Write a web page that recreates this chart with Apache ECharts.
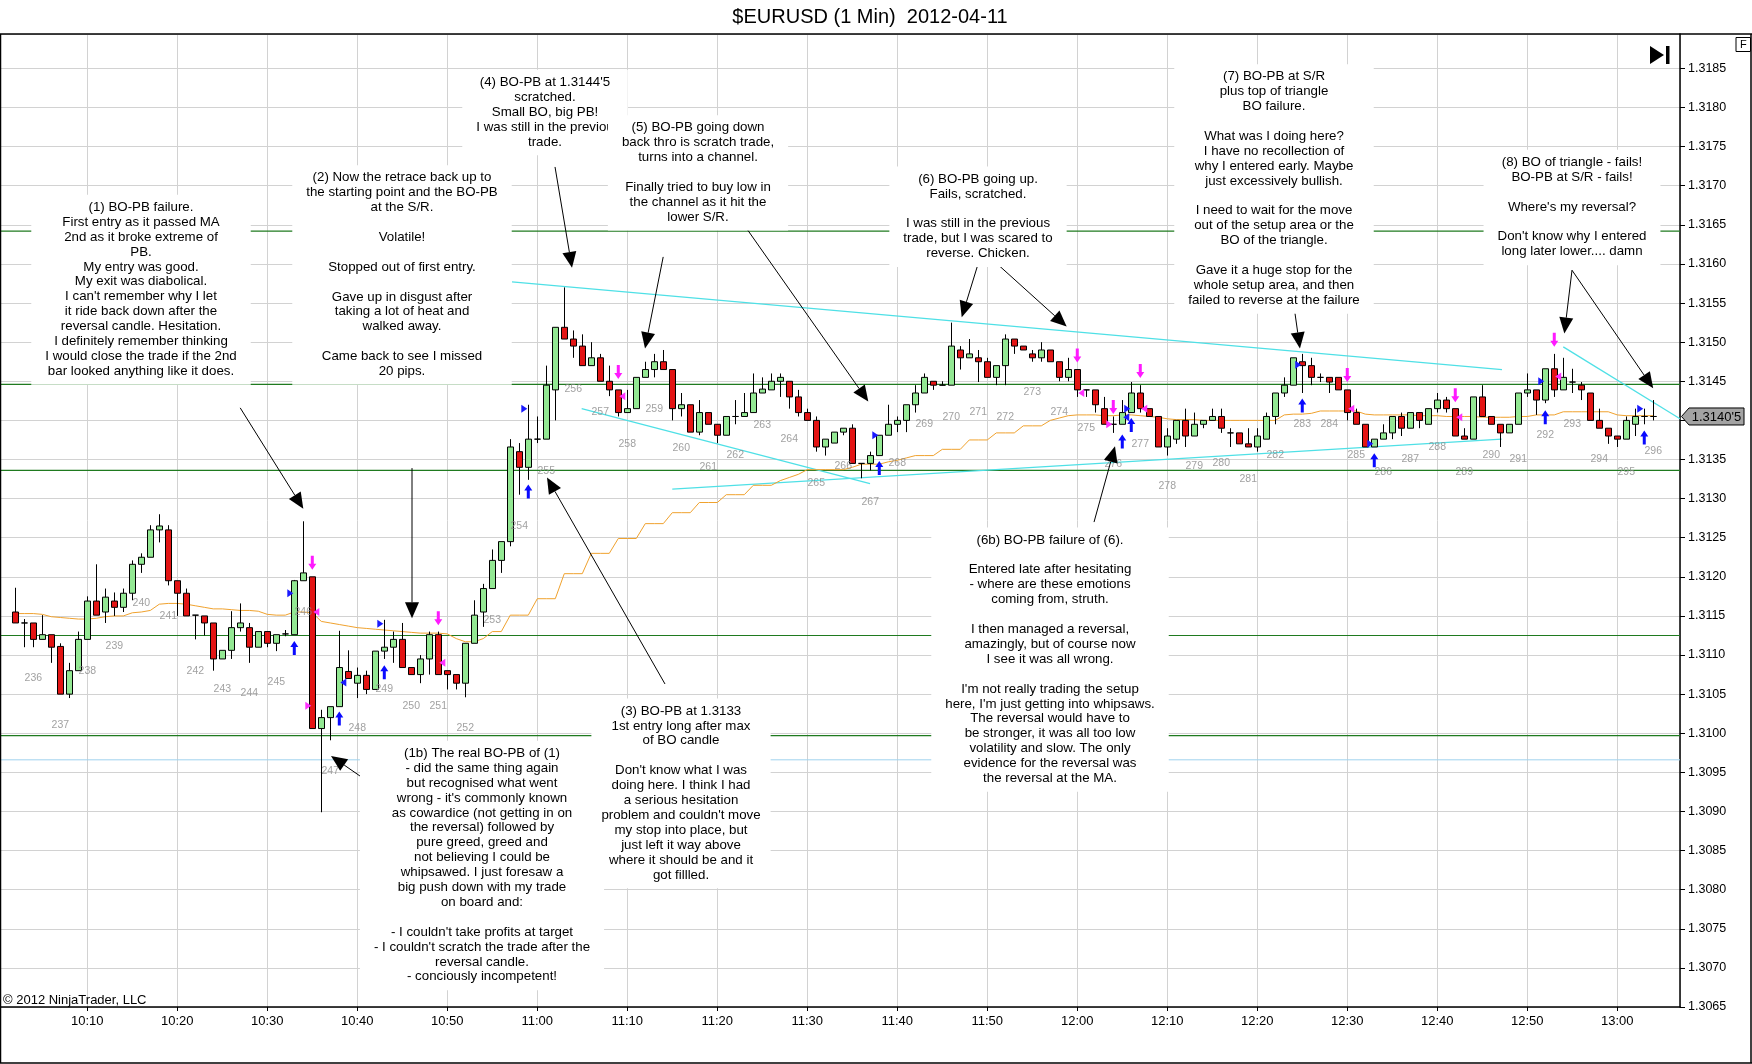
<!DOCTYPE html>
<html><head><meta charset="utf-8">
<script src="https://cdn.jsdelivr.net/npm/echarts@6/dist/echarts.min.js"></script>
<style>html,body{margin:0;padding:0;background:#fff}#c{width:1752px;height:1064px}</style>
</head><body><div id="c"></div>
<script>
// ---------- DATA ----------
const startMinute = 2; // first bar = 10:02 (minutes after 10:00), one bar per minute
const opens = [
1.31155,1.31141,1.31141,1.31120,1.31126,1.31111,1.31050,1.31080,1.31120,1.31169,
1.31155,1.31169,1.31161,1.31179,1.31216,1.31225,1.31260,1.31260,1.31195,1.31179,
1.31151,1.31150,1.31141,1.31095,1.31106,1.31135,1.31135,1.31110,1.31130,1.31115,
1.31127,1.31126,1.31195,1.31200,1.31006,1.31020,1.31034,1.31079,1.31064,1.31074,
1.31056,1.31105,1.31110,1.31120,1.31084,1.31075,1.31095,1.31126,1.31080,1.31075,
1.31064,1.31115,1.31155,1.31185,1.31221,1.31245,1.31360,1.31340,1.31376,1.31376,
1.31439,1.31519,1.31504,1.31495,1.31470,1.31480,1.31450,1.31439,1.31410,1.31415,
1.31455,1.31465,1.31475,1.31465,1.31415,1.31420,1.31385,1.31410,1.31395,1.31381,
1.31405,1.31405,1.31410,1.31435,1.31439,1.31450,1.31450,1.31430,1.31410,1.31400,
1.31366,1.31371,1.31385,1.31390,1.31345,1.31345,1.31355,1.31381,1.31395,1.31400,
1.31420,1.31435,1.31450,1.31445,1.31445,1.31490,1.31480,1.31480,1.31475,1.31455,
1.31470,1.31504,1.31495,1.31485,1.31480,1.31490,1.31475,1.31455,1.31465,1.31439,
1.31439,1.31415,1.31395,1.31395,1.31410,1.31435,1.31415,1.31405,1.31366,1.31376,
1.31400,1.31380,1.31395,1.31400,1.31405,1.31384,1.31384,1.31370,1.31366,1.31376,
1.31405,1.31435,1.31445,1.31475,1.31470,1.31455,1.31455,1.31455,1.31439,1.31410,
1.31395,1.31366,1.31376,1.31384,1.31405,1.31390,1.31410,1.31395,1.31415,1.31426,
1.31415,1.31380,1.31376,1.31430,1.31405,1.31395,1.31384,1.31395,1.31435,1.31439,
1.31426,1.31466,1.31439,1.31449,1.31445,1.31435,1.31400,1.31390,1.31380,1.31376,
1.31395,1.31405,1.31405];
const closes = [
1.31141,1.31141,1.31120,1.31126,1.31110,1.31050,1.31080,1.31120,1.31169,1.31151,
1.31174,1.31161,1.31179,1.31216,1.31225,1.31260,1.31265,1.31195,1.31179,1.31150,
1.31151,1.31141,1.31095,1.31106,1.31135,1.31141,1.31110,1.31130,1.31115,1.31126,
1.31127,1.31195,1.31205,1.31006,1.31020,1.31034,1.31084,1.31070,1.31074,1.31056,
1.31105,1.31110,1.31120,1.31084,1.31075,1.31095,1.31126,1.31075,1.31075,1.31064,
1.31115,1.31151,1.31185,1.31221,1.31245,1.31366,1.31340,1.31376,1.31376,1.31445,
1.31519,1.31504,1.31495,1.31470,1.31480,1.31450,1.31439,1.31410,1.31415,1.31455,
1.31465,1.31475,1.31465,1.31415,1.31420,1.31385,1.31410,1.31395,1.31381,1.31405,
1.31405,1.31410,1.31435,1.31440,1.31450,1.31455,1.31430,1.31410,1.31400,1.31366,
1.31376,1.31385,1.31390,1.31345,1.31345,1.31355,1.31381,1.31395,1.31400,1.31420,
1.31435,1.31455,1.31445,1.31445,1.31495,1.31480,1.31485,1.31475,1.31455,1.31470,
1.31504,1.31495,1.31490,1.31480,1.31490,1.31475,1.31455,1.31465,1.31439,1.31439,
1.31420,1.31395,1.31395,1.31410,1.31435,1.31415,1.31405,1.31366,1.31380,1.31400,
1.31380,1.31395,1.31400,1.31405,1.31390,1.31384,1.31370,1.31366,1.31380,1.31405,
1.31435,1.31445,1.31480,1.31470,1.31455,1.31455,1.31449,1.31439,1.31410,1.31395,
1.31366,1.31376,1.31384,1.31405,1.31390,1.31410,1.31400,1.31415,1.31426,1.31415,
1.31380,1.31376,1.31430,1.31405,1.31395,1.31384,1.31395,1.31435,1.31439,1.31426,
1.31466,1.31439,1.31455,1.31449,1.31439,1.31400,1.31390,1.31380,1.31376,1.31400,
1.31405,1.31405,1.31405];
const lows = [
1.31141,1.31110,1.31110,1.31120,1.31090,1.31050,1.31045,1.31080,1.31120,1.31151,
1.31141,1.31150,1.31155,1.31170,1.31205,1.31225,1.31244,1.31189,1.31150,1.31150,
1.31120,1.31125,1.31080,1.31095,1.31095,1.31130,1.31090,1.31110,1.31110,1.31105,
1.31124,1.31126,1.31195,1.31006,1.30899,1.30991,1.31034,1.31070,1.31045,1.31050,
1.31056,1.31095,1.31090,1.31084,1.31075,1.31064,1.31075,1.31075,1.31056,1.31056,
1.31046,1.31115,1.31136,1.31185,1.31205,1.31239,1.31305,1.31324,1.31371,1.31376,
1.31400,1.31504,1.31480,1.31470,1.31470,1.31450,1.31431,1.31405,1.31410,1.31415,
1.31455,1.31455,1.31465,1.31400,1.31405,1.31385,1.31381,1.31395,1.31371,1.31381,
1.31395,1.31405,1.31410,1.31435,1.31439,1.31430,1.31415,1.31405,1.31400,1.31360,
1.31355,1.31371,1.31381,1.31345,1.31326,1.31336,1.31355,1.31381,1.31385,1.31385,
1.31410,1.31435,1.31439,1.31445,1.31445,1.31465,1.31480,1.31449,1.31455,1.31445,
1.31445,1.31485,1.31490,1.31475,1.31475,1.31475,1.31450,1.31450,1.31430,1.31430,
1.31410,1.31395,1.31384,1.31395,1.31410,1.31410,1.31405,1.31366,1.31355,1.31370,
1.31366,1.31380,1.31390,1.31400,1.31384,1.31366,1.31370,1.31366,1.31360,1.31376,
1.31395,1.31430,1.31445,1.31435,1.31445,1.31449,1.31435,1.31439,1.31400,1.31395,
1.31366,1.31366,1.31376,1.31376,1.31380,1.31390,1.31390,1.31395,1.31410,1.31410,
1.31380,1.31376,1.31376,1.31405,1.31395,1.31366,1.31384,1.31395,1.31430,1.31407,
1.31422,1.31430,1.31439,1.31435,1.31426,1.31400,1.31390,1.31370,1.31366,1.31376,
1.31380,1.31395,1.31400];
const highs = [
1.31186,1.31146,1.31141,1.31151,1.31126,1.31115,1.31090,1.31130,1.31175,1.31216,
1.31185,1.31180,1.31185,1.31221,1.31230,1.31266,1.31280,1.31266,1.31195,1.31185,
1.31151,1.31150,1.31141,1.31106,1.31156,1.31166,1.31141,1.31130,1.31130,1.31126,
1.31132,1.31196,1.31271,1.31200,1.31030,1.31034,1.31131,1.31106,1.31084,1.31080,
1.31105,1.31145,1.31130,1.31141,1.31084,1.31100,1.31130,1.31130,1.31080,1.31075,
1.31115,1.31170,1.31191,1.31235,1.31245,1.31376,1.31371,1.31420,1.31405,1.31470,
1.31519,1.31570,1.31515,1.31510,1.31500,1.31485,1.31470,1.31439,1.31439,1.31455,
1.31475,1.31485,1.31490,1.31465,1.31435,1.31420,1.31426,1.31410,1.31395,1.31405,
1.31426,1.31435,1.31460,1.31455,1.31460,1.31460,1.31450,1.31439,1.31415,1.31405,
1.31376,1.31385,1.31390,1.31395,1.31345,1.31360,1.31381,1.31420,1.31405,1.31420,
1.31445,1.31460,1.31450,1.31450,1.31525,1.31495,1.31504,1.31490,1.31480,1.31470,
1.31510,1.31504,1.31495,1.31490,1.31500,1.31490,1.31475,1.31480,1.31465,1.31439,
1.31439,1.31430,1.31405,1.31426,1.31449,1.31445,1.31415,1.31405,1.31390,1.31400,
1.31415,1.31410,1.31400,1.31415,1.31415,1.31390,1.31384,1.31390,1.31390,1.31410,
1.31435,1.31455,1.31480,1.31485,1.31480,1.31460,1.31455,1.31455,1.31439,1.31415,
1.31395,1.31376,1.31395,1.31405,1.31410,1.31410,1.31410,1.31415,1.31435,1.31430,
1.31415,1.31390,1.31430,1.31445,1.31405,1.31395,1.31395,1.31435,1.31460,1.31439,
1.31466,1.31485,1.31480,1.31466,1.31449,1.31435,1.31415,1.31390,1.31380,1.31405,
1.31415,1.31415,1.31426];
const maValues = [
1.31153,1.31153,1.31153,1.31152,1.31149,1.31148,1.31147,1.31146,1.31146,1.31147,
1.31149,1.31150,1.31150,1.31154,1.31155,1.31157,1.31165,1.31166,1.31166,1.31165,
1.31163,1.31161,1.31159,1.31159,1.31158,1.31157,1.31157,1.31156,1.31152,1.31151,
1.31151,1.31155,1.31155,1.31154,1.31143,1.31141,1.31139,1.31137,1.31135,1.31134,
1.31133,1.31132,1.31131,1.31130,1.31129,1.31128,1.31128,1.31128,1.31127,1.31121,
1.31117,1.31117,1.31121,1.31130,1.31130,1.31151,1.31151,1.31151,1.31172,1.31172,
1.31172,1.31204,1.31204,1.31204,1.31230,1.31230,1.31230,1.31249,1.31249,1.31249,
1.31268,1.31268,1.31268,1.31282,1.31282,1.31282,1.31295,1.31295,1.31295,1.31305,
1.31305,1.31305,1.31317,1.31317,1.31317,1.31323,1.31327,1.31331,1.31337,1.31337,
1.31337,1.31337,1.31337,1.31340,1.31344,1.31344,1.31344,1.31347,1.31349,1.31352,
1.31355,1.31355,1.31355,1.31363,1.31363,1.31363,1.31375,1.31375,1.31375,1.31384,
1.31384,1.31384,1.31393,1.31393,1.31393,1.31400,1.31403,1.31406,1.31407,1.31407,
1.31407,1.31406,1.31406,1.31407,1.31407,1.31406,1.31405,1.31404,1.31402,1.31401,
1.31401,1.31401,1.31400,1.31400,1.31400,1.31400,1.31400,1.31400,1.31400,1.31400,
1.31400,1.31407,1.31408,1.31408,1.31409,1.31412,1.31412,1.31412,1.31412,1.31412,
1.31408,1.31407,1.31407,1.31407,1.31407,1.31407,1.31406,1.31406,1.31406,1.31405,
1.31405,1.31405,1.31405,1.31404,1.31404,1.31404,1.31404,1.31405,1.31405,1.31407,
1.31407,1.31407,1.31411,1.31411,1.31411,1.31411,1.31411,1.31411,1.31407,1.31406,
1.31406,1.31406,1.31406];
const srLevels = [1.31642, 1.31446, 1.31336, 1.31125, 1.30997];
const lightBlueLevel = 1.30966;
// trend lines: [minute1, price1, minute2, price2]
const trendLines = [
  [57.19, 1.31577, 167.19, 1.31465],
  [75.00, 1.31312, 167.16, 1.31376],
  [64.93, 1.31415, 96.97, 1.31319],
  [174.00, 1.31494, 186.97, 1.31402]
];
// annotation pointer arrows: [minute1, price1, minuteTip, priceTip]
const pointerArrows = [
  [26.99,1.31416, 34.00,1.31287],
  [46.08,1.31339, 46.08,1.31147],
  [41.97,1.30932, 37.08,1.30971],
  [74.19,1.31063, 61.08,1.31327],
  [61.97,1.31724, 63.86,1.31595],
  [73.99,1.31609, 71.97,1.31492],
  [82.97,1.31650, 96.78,1.31424],
  [109.03,1.31602, 107.16,1.31532],
  [111.01,1.31601, 118.82,1.31520],
  [121.86,1.31270, 124.19,1.31367],
  [144.08,1.31546, 144.74,1.31492],
  [174.97,1.31592, 174.12,1.31511],
  [174.97,1.31592, 183.99,1.31441]
];
// trade markers: [barIndex, price]
const buyArrows = [[31,1.31109],[36,1.31019],[41,1.31078],[57,1.31309],[96,1.31339],[123,1.31373],[124,1.31394],[143,1.31419],[151,1.31349],[170,1.31404],[181,1.31378]];
const sellArrows = [[33,1.31218],[47,1.31147],[67,1.31462],[118,1.31483],[122,1.31417],[125,1.31463],[148,1.31458],[160,1.31432],[171,1.31503]];
const blueRightTri = [[31,1.31179],[41,1.31140],[57,1.31415],[96,1.31381],[124,1.31415],[143,1.31471],[151,1.31370],[170,1.31450],[181,1.31415]];
const blueLeftTri = [[36,1.31065],[123,1.31404]];
const magentaLeftTri = [[33,1.31155],[47,1.31090],[67,1.31431],[118,1.31435],[125,1.31415],[148,1.31415],[160,1.31404],[171,1.31456]];
const magentaRightTri = [[33,1.31035],[122,1.31395]];
// bar-count labels every 3 bars, starting with 236 at 10:04
const firstBarNumber = 236;
const barNumLevels = [
1.31070,1.31010,1.31080,1.31111,1.31166,1.31150,1.31080,1.31056,1.31051,1.31065,
1.31155,1.30951,1.31006,1.31056,1.31035,1.31035,1.31006,1.31145,1.31265,1.31335,
1.31440,1.31410,1.31370,1.31415,1.31365,1.31340,1.31355,1.31394,1.31376,1.31320,
1.31341,1.31295,1.31345,1.31395,1.31404,1.31410,1.31404,1.31436,1.31410,1.31390,
1.31344,1.31370,1.31316,1.31341,1.31345,1.31325,1.31356,1.31395,1.31395,1.31356,
1.31334,1.31350,1.31366,1.31334,1.31356,1.31350,1.31381,1.31395,1.31350,1.31334,
1.31361];

const notes = [
 {cx:141, y0:207.3, text:"(1) BO-PB failure.\nFirst entry as it passed MA\n2nd as it broke extreme of\nPB.\nMy entry was good.\nMy exit was diabolical.\nI can't remember why I let\nit ride back down after the\nreversal candle. Hesitation.\nI definitely remember thinking\nI would close the trade if the 2nd\nbar looked anything like it does."},
 {cx:402, y0:177.7, text:"(2) Now the retrace back up to\nthe starting point and the BO-PB\nat the S/R.\n\nVolatile!\n\nStopped out of first entry.\n\nGave up in disgust after\ntaking a lot of heat and\nwalked away.\n\nCame back to see I missed\n20 pips."},
 {cx:545, y0:82.3, text:"(4) BO-PB at 1.3144'5\nscratched.\nSmall BO, big PB!\nI was still in the previou\ntrade."},
 {cx:698, y0:127.7, text:"(5) BO-PB going down\nback thro is scratch trade,\nturns into a channel.\n\nFinally tried to buy low in\nthe channel as it hit the\nlower S/R."},
 {cx:978, y0:179, text:"(6) BO-PB going up.\nFails, scratched.\n\nI was still in the previous\ntrade, but I was scared to\nreverse. Chicken."},
 {cx:1274, y0:76.7, text:"(7) BO-PB at S/R\nplus top of triangle\nBO failure.\n\nWhat was I doing here?\nI have no recollection of\nwhy I entered early. Maybe\njust excessively bullish.\n\nI need to wait for the move\nout of the setup area or the\nBO of the triangle.\n\nGave it a huge stop for the\nwhole setup area, and then\nfailed to reverse at the failure"},
 {cx:1572, y0:162.3, text:"(8) BO of triangle - fails!\nBO-PB at S/R - fails!\n\nWhere's my reversal?\n\nDon't know why I entered\nlong later lower.... damn"},
 {cx:482, y0:753.3, text:"(1b) The real BO-PB of (1)\n- did the same thing again\nbut recognised what went\nwrong - it's commonly known\nas cowardice (not getting in on\nthe reversal) followed by\npure greed, greed and\nnot believing I could be\nwhipsawed. I just foresaw a\nbig push down with my trade\non board and:\n\n- I couldn't take profits at target\n- I couldn't scratch the trade after the\nreversal candle.\n- conciously incompetent!"},
 {cx:681, y0:711, pad:10, text:"(3) BO-PB at 1.3133\n1st entry long after max\nof BO candle\n\nDon't know what I was\ndoing here. I think I had\na serious hesitation\nproblem and couldn't move\nmy stop into place, but\njust left it way above\nwhere it should be and it\ngot fillled."},
 {cx:1050, y0:540, text:"(6b) BO-PB failure of (6).\n\nEntered late after hesitating\n- where are these emotions\ncoming from, struth.\n\nI then managed a reversal,\namazingly, but of course now\nI see it was all wrong.\n\nI'm not really trading the setup\nhere, I'm just getting into whipsaws.\nThe reversal would have to\nbe stronger, it was all too low\nvolatility and slow. The only\nevidence for the reversal was\nthe reversal at the MA."}
];

// ---------- CHART ----------
const FONT = '"Liberation Sans", Arial, sans-serif';
const X_MIN = 0.3, X_MAX = 186.97;
const chart = echarts.init(document.getElementById('c'), null, {renderer:'canvas'});
const candleData = opens.map((o,i)=>[startMinute+i, o, closes[i], lows[i], highs[i]]);
const maData = maValues.map((v,i)=>[startMinute+i, v]);
const toXY = arr => arr.map(d=>[startMinute+d[0], d[1]]);
const barNumData = barNumLevels.map((p,k)=>({name:String(firstBarNumber+k), value:[startMinute+2+3*k, p]}));

const upArrow = 'path://M4,0 L8,6 L5.5,6 L5.5,14 L2.5,14 L2.5,6 L0,6 Z';
const downArrow = 'path://M2.5,0 L5.5,0 L5.5,8 L8,8 L4,14 L0,8 L2.5,8 Z';
const triRight = 'path://M0,0 L6,4 L0,8 Z';
const triLeft = 'path://M6,0 L0,4 L6,8 Z';
const markerSeries = (data, symbol, size, color, offset) => ({
  type:'scatter', data: toXY(data), symbol, symbolSize:size, symbolOffset:offset||[0,0],
  itemStyle:{color, opacity:1}, z:6, silent:true
});
const hLine = (p, color, width) => ({ type:'line', data:[[X_MIN,p],[X_MAX,p]], symbol:'none', silent:true, z:2,
  lineStyle:{color, width, type:'solid'} });

const series = [
  ...srLevels.map(p=>hLine(p, '#1f7a1f', 1.2)),
  hLine(lightBlueLevel, '#9fd2ee', 1),
  ...trendLines.map(t=>({ type:'line', data:[[t[0],t[1]],[t[2],t[3]]], symbol:'none', silent:true, z:3,
      lineStyle:{color:'#4fe0e6', width:1.3} })),
  { type:'line', data:maData, symbol:'none', silent:true, z:3, lineStyle:{color:'#f0a22e', width:1} },
  { type:'candlestick', data:candleData, encode:{x:0, y:[1,2,3,4]}, barWidth:7, silent:true, z:4,
    itemStyle:{color:'#93e893', color0:'#e31414', borderColor:'#000', borderColor0:'#000', borderColorDoji:'#000', borderWidth:1} },
  { type:'scatter', data:barNumData, symbolSize:0.1, silent:true, z:5, itemStyle:{color:'rgba(0,0,0,0)'},
    label:{show:true, position:'inside', formatter:'{b}', color:'#8a8a8a', fontSize:10.5, fontFamily:FONT} },
  markerSeries(buyArrows, upArrow, [8,14], '#0a0aff'),
  markerSeries(sellArrows, downArrow, [8,14], '#ff1aff'),
  markerSeries(blueRightTri, triRight, [6,8], '#1a1aff', [-4,0]),
  markerSeries(blueLeftTri, triLeft, [6,8], '#1a1aff', [4,0]),
  markerSeries(magentaLeftTri, triLeft, [6,8], '#ff33ff', [4,0]),
  markerSeries(magentaRightTri, triRight, [6,8], '#ff33ff', [-4,0]),
  { type:'custom', data:pointerArrows, silent:true, z:7, clip:false,
    encode:{x:[0,2], y:[1,3]},
    renderItem:(params, api)=>{
      const s = api.coord([api.value(0), api.value(1)]);
      const t = api.coord([api.value(2), api.value(3)]);
      const dx=t[0]-s[0], dy=t[1]-s[1], len=Math.hypot(dx,dy)||1, ux=dx/len, uy=dy/len;
      const L=16, W=7;
      const bx=t[0]-ux*L, by=t[1]-uy*L;
      return {type:'group', children:[
        {type:'line', shape:{x1:s[0],y1:s[1],x2:bx,y2:by}, style:{stroke:'#000', lineWidth:1}},
        {type:'polygon', shape:{points:[[t[0],t[1]],[bx-uy*W,by+ux*W],[bx+uy*W,by-ux*W]]}, style:{fill:'#000'}}
      ]};
    } }
];

const option = {
  animation:false,
  backgroundColor:'#fff',
  grid:{left:0, right:72, top:34, bottom:57, containLabel:false},
  xAxis:{ type:'value', min:X_MIN, max:X_MAX, splitNumber:18,
    axisLine:{show:true, onZero:false, lineStyle:{color:'#000', width:1.5}},
    axisTick:{show:true, length:4, lineStyle:{color:'#000'}},
    axisLabel:{ color:'#000', fontSize:13, fontFamily:FONT, margin:8, showMinLabel:false, showMaxLabel:false,
      formatter: v => { if (Math.abs(v-Math.round(v))>0.01 || v<10 || v>185) return '';
        const r=Math.round(v); const h=10+Math.floor(r/60), mm=r%60; return h+':'+String(mm).padStart(2,'0'); } },
    splitLine:{show:true, lineStyle:{color:'#d2d2d2', width:1}} },
  yAxis:{ type:'value', position:'right', min:1.3065, max:1.31894, interval:0.0005, scale:true,
    axisLine:{show:true, lineStyle:{color:'#000', width:1.5}},
    axisTick:{show:true, length:5, lineStyle:{color:'#000'}},
    axisLabel:{ color:'#000', fontSize:12.5, fontFamily:FONT, margin:8, showMaxLabel:false,
      formatter: v => v.toFixed(4) },
    splitLine:{show:true, lineStyle:{color:'#d2d2d2', width:1}} },
  series
};
chart.setOption(option);

// ---------- DECORATION / ANNOTATIONS ----------
const LH = 14.9;
const g = [];
g.push({type:'text', z:100, silent:true, style:{text:'$EURUSD (1 Min)  2012-04-11', x:870, y:17,
  align:'center', textAlign:'center', verticalAlign:'middle', textVerticalAlign:'middle', font:'20px '+FONT, fill:'#000'}});
notes.forEach(n=>{
  g.push({type:'text', z:100, silent:true, style:{text:n.text, x:n.cx, y:n.y0 - LH/2 - 5,
    align:'center', textAlign:'center', verticalAlign:'top', textVerticalAlign:'top',
    font:'13.3px '+FONT, fill:'#000', lineHeight:LH, backgroundColor:'#fff', padding:[5, n.pad||14, 6, n.pad||14]}});
});
g.push({type:'text', z:100, silent:true, style:{text:'\u00A9 2012 NinjaTrader, LLC', x:3, y:1000,
  align:'left', textAlign:'left', verticalAlign:'middle', textVerticalAlign:'middle', font:'13px '+FONT, fill:'#000'}});
// frame
const frame = [[0,34,1752,34],[0.5,34,0.5,1063],[0,1063,1752,1063],[1751,34,1751,1063]];
frame.forEach(f=>g.push({type:'line', z:99, silent:true, shape:{x1:f[0],y1:f[1],x2:f[2],y2:f[3]}, style:{stroke:'#000', lineWidth:1.5}}));
// "F" box and scroll-to-end icon
g.push({type:'rect', z:100, silent:true, shape:{x:1736, y:37.5, width:14.5, height:14}, style:{fill:'#fff', stroke:'#000', lineWidth:1}});
g.push({type:'text', z:101, silent:true, style:{text:'F', x:1743.3, y:44.8, align:'center', textAlign:'center', verticalAlign:'middle', textVerticalAlign:'middle', font:'11px '+FONT, fill:'#000'}});
g.push({type:'polygon', z:100, silent:true, shape:{points:[[1650,46],[1664,55],[1650,64]]}, style:{fill:'#000'}});
g.push({type:'rect', z:100, silent:true, shape:{x:1666, y:46, width:3.5, height:18}, style:{fill:'#000'}});
// last price marker
const lastClose = closes[closes.length-1];
const yLast = chart.convertToPixel({yAxisIndex:0}, lastClose);
const s5 = lastClose.toFixed(5);
const lastTxt = s5.slice(0,-1) + "'" + s5.slice(-1);
g.push({type:'polygon', z:100, silent:true, shape:{points:[[1681.5,yLast],[1689,yLast-8.5],[1744,yLast-8.5],[1744,yLast+8.5],[1689,yLast+8.5]]},
  style:{fill:'#a3a3a3', stroke:'#000', lineWidth:1}});
g.push({type:'text', z:101, silent:true, style:{text:lastTxt, x:1716.5, y:yLast+0.5, align:'center', textAlign:'center', verticalAlign:'middle', textVerticalAlign:'middle', font:'13px '+FONT, fill:'#000'}});
chart.setOption({graphic:g});
</script>
</body></html>
